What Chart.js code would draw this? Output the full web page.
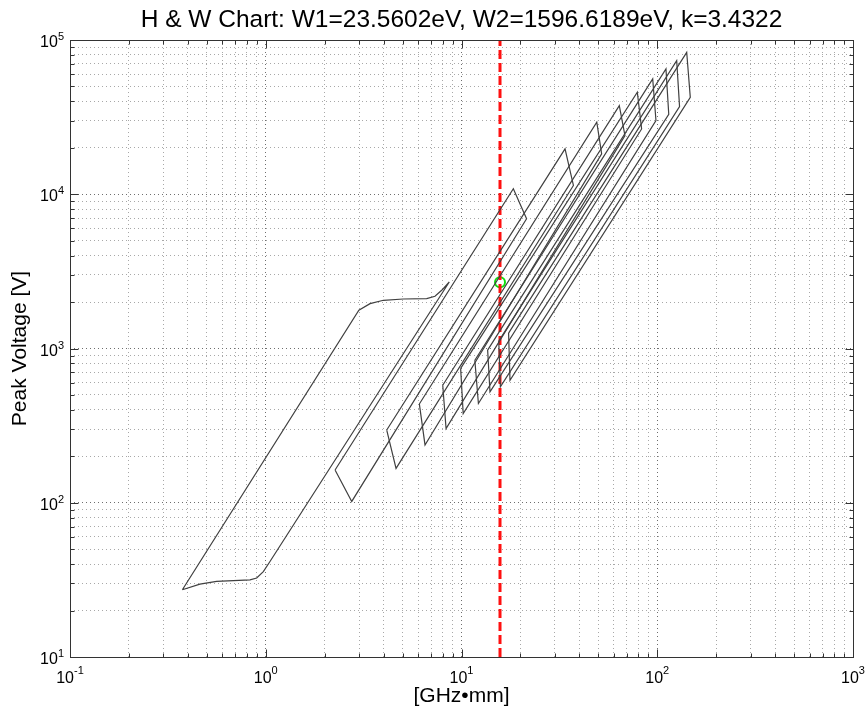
<!DOCTYPE html>
<html><head><meta charset="utf-8">
<script src="https://cdn.jsdelivr.net/npm/chart.js@4/dist/chart.umd.min.js"></script>
<style>html,body{margin:0;padding:0;background:#fff;}canvas{display:block}</style>
</head><body>
<canvas id="c" width="867" height="714"></canvas>
<script>
// ---------- text ----------
const titleText = 'H & W Chart: W1=23.5602eV, W2=1596.6189eV, k=3.4322';
const xAxisTitle = '[GHz\u2022mm]';
const yAxisTitle = 'Peak Voltage [V]';
const xTickExponents = [-1, 0, 1, 2, 3];
const yTickExponents = [1, 2, 3, 4, 5];

// ---------- data (f·d in GHz·mm, peak voltage in V) ----------
// first susceptibility zone, closed outline
const zone1X = [0.375, 2.99, 3.41, 3.99, 5.04, 6.64, 7.32, 7.92, 8.66, 1.051, 0.972, 0.899, 0.831, 0.683, 0.561, 0.461, 0.375];
const zone1Y = [27.3, 1770, 1954, 2054, 2094, 2106, 2180, 2384, 2698, 41.6, 35.8, 32.5, 31.6, 31.3, 30.9, 29.7, 27.3];

// higher-order zones 2..10: corner points of each closed outline
const zoneLeftX   = [2.26, 4.15, 6.09, 8.02, 9.9, 11.7, 13.6, 15.5, 17.4];
const zoneLeftY   = [163, 296, 437, 578, 743, 839, 977, 1117, 1259];
const zoneTopX    = [18.4, 33.8, 49.1, 64.0, 79.1, 94.8, 110.8, 125.7, 141.4];
const zoneTopY    = [10870, 19680, 29300, 37570, 45810, 55970, 64870, 73470, 83200];
const zoneRightX  = [21.5, 37.3, 52.0, 68.4, 83.2, 98.5, 114.5, 130.0, 147.5];
const zoneRightY  = [6940, 11400, 18280, 24030, 26500, 30080, 33000, 37000, 42470];
const zoneBottomX = [2.75, 4.63, 6.51, 8.34, 10.2, 12.2, 13.98, 15.8, 17.69];
const zoneBottomY = [102, 167, 237, 303, 379, 440, 524, 565, 623];

// operating point and its f·d marker line
const operatingFd = [15.73];
const operatingV = [2686];
const markerLineY = [10, 100000];

// ---------- build datasets ----------
const lineColor = '#404040';
const datasets = [];
datasets.push({
  data: zone1X.map((v, i) => ({x: v, y: zone1Y[i]})),
  showLine: true, borderColor: lineColor, borderWidth: 1.2, pointRadius: 0, fill: false
});
zoneLeftX.forEach((_, i) => {
  datasets.push({
    data: [
      {x: zoneLeftX[i], y: zoneLeftY[i]},
      {x: zoneTopX[i], y: zoneTopY[i]},
      {x: zoneRightX[i], y: zoneRightY[i]},
      {x: zoneBottomX[i], y: zoneBottomY[i]},
      {x: zoneLeftX[i], y: zoneLeftY[i]}
    ],
    showLine: true, borderColor: lineColor, borderWidth: 1.2, pointRadius: 0, fill: false
  });
});
datasets.push({
  data: markerLineY.map(v => ({x: operatingFd[0], y: v})),
  showLine: true, borderColor: '#ff1010', borderWidth: 3, borderDash: [9, 4], pointRadius: 0, fill: false
});
datasets.push({
  data: operatingFd.map((v, i) => ({x: v, y: operatingV[i]})),
  showLine: false, pointRadius: 5, pointBorderWidth: 2, borderWidth: 2,
  borderColor: '#10e010', pointBorderColor: '#10e010', backgroundColor: 'rgba(0,0,0,0)', pointBackgroundColor: 'rgba(0,0,0,0)'
});

// grid positions 1..9 per decade
function decadeTicks(exps) {
  const out = [];
  for (let k = 0; k < exps.length - 1; k++) {
    for (let m = 1; m <= 9; m++) out.push({value: m * Math.pow(10, exps[k]), major: m === 1});
  }
  out.push({value: Math.pow(10, exps[exps.length - 1]), major: true});
  return out;
}

const FONT = '"Liberation Sans", Arial, Helvetica, sans-serif';

const framePlugin = {
  id: 'hwFrame',
  afterDatasetsDraw(chart) {
    const {ctx, chartArea: a, scales: {x, y}} = chart;
    ctx.save();
    ctx.strokeStyle = '#333';
    ctx.lineWidth = 1;
    ctx.setLineDash([]);
    ctx.beginPath();
    const L = Math.round(a.left) + 0.5, R = Math.round(a.right) + 0.5, T = Math.round(a.top) + 0.5, B = Math.round(a.bottom) + 0.5;
    x.ticks.forEach(t => {
      const px = Math.round(x.getPixelForValue(t.value)) + 0.5;
      const len = t.major ? 8 : 4;
      ctx.moveTo(px, B); ctx.lineTo(px, B - len);
      ctx.moveTo(px, T); ctx.lineTo(px, T + len);
    });
    y.ticks.forEach(t => {
      const py = Math.round(y.getPixelForValue(t.value)) + 0.5;
      const len = t.major ? 8 : 4;
      ctx.moveTo(L, py); ctx.lineTo(L + len, py);
      ctx.moveTo(R, py); ctx.lineTo(R - len, py);
    });
    ctx.stroke();
    ctx.strokeRect(L, T, R - L, B - T);
    ctx.restore();
  },
  afterDraw(chart) {
    const {ctx, chartArea: a, scales: {x, y}} = chart;
    const baseFont = '16px ' + FONT, supFont = '11px ' + FONT;
    ctx.save();
    ctx.fillStyle = '#000';
    // title centred over the plot box
    ctx.font = '24.5px ' + FONT;
    ctx.textAlign = 'center';
    ctx.textBaseline = 'alphabetic';
    ctx.fillText(titleText, (a.left + a.right) / 2, 27);
    ctx.textAlign = 'left';
    xTickExponents.forEach(e => {
      const px = x.getPixelForValue(Math.pow(10, e));
      const sup = String(e);
      ctx.font = baseFont; const wb = ctx.measureText('10').width;
      ctx.font = supFont; const ws = ctx.measureText(sup).width;
      const start = px - (wb + ws) / 2;
      ctx.font = baseFont; ctx.fillText('10', start, a.bottom + 26);
      ctx.font = supFont; ctx.fillText(sup, start + wb, a.bottom + 17);
    });
    yTickExponents.forEach(e => {
      const py = y.getPixelForValue(Math.pow(10, e));
      const sup = String(e);
      ctx.font = baseFont; const wb = ctx.measureText('10').width;
      ctx.font = supFont; const ws = ctx.measureText(sup).width;
      const start = a.left - 6 - wb - ws;
      ctx.font = baseFont; ctx.fillText('10', start, py + 7);
      ctx.font = supFont; ctx.fillText(sup, start + wb, py);
    });
    ctx.restore();
  }
};

new Chart(document.getElementById('c'), {
  type: 'scatter',
  data: {datasets},
  plugins: [framePlugin],
  options: {
    responsive: false,
    animation: false,
    layout: {padding: {left: 0, right: 14, top: 40, bottom: 0}},
    plugins: {
      legend: {display: false},
      tooltip: {enabled: false},
      title: {display: false}
    },
    scales: {
      x: {
        type: 'logarithmic', position: 'bottom', min: 0.1, max: 1000,
        afterBuildTicks: s => { s.ticks = decadeTicks(xTickExponents); },
        ticks: {display: false},
        grid: {drawTicks: false, lineWidth: 1, color: c => (c.tick && c.tick.major) ? '#6e6e6e' : '#a8a8a8'},
        border: {display: false, dash: [1, 3]},
        title: {display: true, text: xAxisTitle, color: '#000', font: {family: FONT, size: 21, lineHeight: 1.2}, padding: {top: 27, bottom: 4.8}}
      },
      y: {
        type: 'logarithmic', position: 'left', min: 10, max: 100000,
        afterBuildTicks: s => { s.ticks = decadeTicks(yTickExponents); },
        ticks: {display: false},
        grid: {drawTicks: false, lineWidth: 1, color: c => (c.tick && c.tick.major) ? '#6e6e6e' : '#a8a8a8'},
        border: {display: false, dash: [1, 3]},
        title: {display: true, text: yAxisTitle, color: '#000', font: {family: FONT, size: 21, lineHeight: 1.2}, padding: {top: 7.4, bottom: 37.4}}
      }
    }
  }
});
</script>
</body></html>
